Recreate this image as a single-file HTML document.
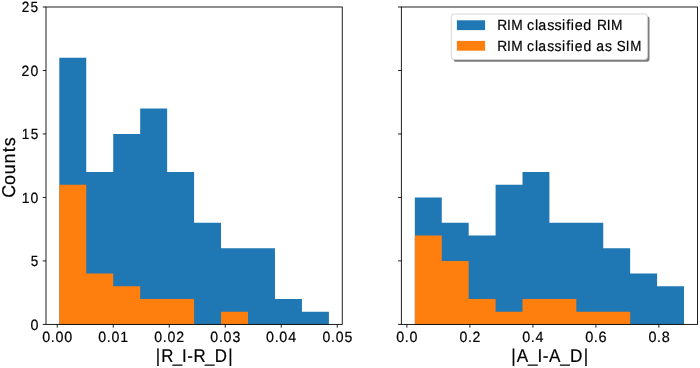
<!DOCTYPE html>
<html><head><meta charset="utf-8"><title>Histogram</title>
<style>
html,body{margin:0;padding:0;background:#fff;}
body{width:700px;height:368px;overflow:hidden;}
svg{display:block;font-family:"Liberation Sans",sans-serif;will-change:transform;text-rendering:geometricPrecision;}
svg text{fill:#000;stroke:#000;stroke-width:0.2px;white-space:pre;}
</style></head><body>
<svg width="700" height="368" viewBox="0 0 700 368">
<rect x="0" y="0" width="700" height="368" fill="#fff"/>
<path d="M59.30,324.4 L59.30,57.78 L86.26,57.78 L86.26,172.05 L113.22,172.05 L113.22,133.96 L140.18,133.96 L140.18,108.57 L167.14,108.57 L167.14,172.05 L194.10,172.05 L194.10,222.83 L221.06,222.83 L221.06,248.22 L248.02,248.22 L248.02,248.22 L274.98,248.22 L274.98,299.01 L301.94,299.01 L301.94,311.70 L328.90,311.70 L328.90,324.4 Z" fill="#1f77b4"/>
<path d="M59.30,324.4 L59.30,184.74 L86.26,184.74 L86.26,273.62 L113.22,273.62 L113.22,286.31 L140.18,286.31 L140.18,299.01 L167.14,299.01 L167.14,299.01 L194.10,299.01 L194.10,324.40 L221.06,324.40 L221.06,311.70 L248.02,311.70 L248.02,324.40 L274.98,324.40 L274.98,324.40 L301.94,324.40 L301.94,324.40 L328.90,324.40 L328.90,324.4 Z" fill="#ff7f0e"/>
<path d="M414.85,324.4 L414.85,197.44 L441.77,197.44 L441.77,222.83 L468.68,222.83 L468.68,235.53 L495.60,235.53 L495.60,184.74 L522.51,184.74 L522.51,172.05 L549.42,172.05 L549.42,222.83 L576.34,222.83 L576.34,222.83 L603.25,222.83 L603.25,248.22 L630.17,248.22 L630.17,273.62 L657.09,273.62 L657.09,286.31 L684.00,286.31 L684.00,324.4 Z" fill="#1f77b4"/>
<path d="M414.85,324.4 L414.85,235.53 L441.77,235.53 L441.77,260.92 L468.68,260.92 L468.68,299.01 L495.60,299.01 L495.60,311.70 L522.51,311.70 L522.51,299.01 L549.42,299.01 L549.42,299.01 L576.34,299.01 L576.34,311.70 L603.25,311.70 L603.25,311.70 L630.17,311.70 L630.17,324.40 L657.09,324.40 L657.09,324.40 L684.00,324.40 L684.00,324.4 Z" fill="#ff7f0e"/>
<g stroke="#000" stroke-width="0.88" fill="none">
<rect x="46.0" y="7.0" width="296.25" height="317.40"/>
<rect x="401.35" y="7.0" width="296.15" height="317.40"/>
<path d="M42.75,324.40H46.0 M398.10,324.40H401.35"/>
<path d="M42.75,260.92H46.0 M398.10,260.92H401.35"/>
<path d="M42.75,197.44H46.0 M398.10,197.44H401.35"/>
<path d="M42.75,133.96H46.0 M398.10,133.96H401.35"/>
<path d="M42.75,70.48H46.0 M398.10,70.48H401.35"/>
<path d="M42.75,7.00H46.0 M398.10,7.00H401.35"/>
<path d="M57.25,324.4v3.25"/>
<path d="M113.25,324.4v3.25"/>
<path d="M169.25,324.4v3.25"/>
<path d="M225.25,324.4v3.25"/>
<path d="M281.25,324.4v3.25"/>
<path d="M337.25,324.4v3.25"/>
<path d="M406.90,324.4v3.25"/>
<path d="M469.90,324.4v3.25"/>
<path d="M532.90,324.4v3.25"/>
<path d="M595.90,324.4v3.25"/>
<path d="M658.90,324.4v3.25"/>
</g>
<text x="31.81" y="329.75" font-size="14.90" transform="scale(0.959,1)">0</text>
<text x="33.89" y="266.27" font-size="14.90" transform="scale(0.905,1)">5</text>
<text x="23.10 32.60" y="202.79" font-size="14.90" transform="scale(0.938,1)">10</text>
<text x="23.96 33.68" y="139.31" font-size="14.90" transform="scale(0.910,1)">15</text>
<text x="22.87 32.46" y="75.83" font-size="14.90" transform="scale(0.942,1)">20</text>
<text x="23.69 33.50" y="12.35" font-size="14.90" transform="scale(0.914,1)">25</text>
<text x="43.96 52.93 57.76 66.97" y="341.85" font-size="14.90" transform="scale(0.960,1)">0.00</text>
<text x="103.67 112.73 117.66 126.92" y="341.85" font-size="14.90" transform="scale(0.948,1)">0.01</text>
<text x="162.39 171.44 176.35 185.46" y="341.85" font-size="14.90" transform="scale(0.950,1)">0.02</text>
<text x="221.66 230.72 235.64 244.98" y="341.85" font-size="14.90" transform="scale(0.949,1)">0.03</text>
<text x="277.19 286.17 291.00 300.21" y="341.85" font-size="14.90" transform="scale(0.960,1)">0.04</text>
<text x="341.54 350.63 355.59 364.91" y="341.85" font-size="14.90" transform="scale(0.944,1)">0.05</text>
<text x="412.32 421.29 426.12" y="341.85" font-size="14.90" transform="scale(0.961,1)">0.0</text>
<text x="485.66 494.74 499.48" y="341.85" font-size="14.90" transform="scale(0.946,1)">0.2</text>
<text x="543.42 552.39 557.22" y="341.85" font-size="14.90" transform="scale(0.961,1)">0.4</text>
<text x="599.55 608.42 613.14" y="341.85" font-size="14.90" transform="scale(0.976,1)">0.6</text>
<text x="671.22 680.16 684.95" y="341.85" font-size="14.90" transform="scale(0.966,1)">0.8</text>
<text x="171.49 177.48 190.23 200.44 206.24 213.14 225.90 236.62 251.51" y="362.00" font-size="18.55" transform="scale(0.908,1)">|R_I-R_D|</text>
<text x="552.18 558.05 570.31 580.37 586.05 592.83 605.09 615.57 630.27" y="362.00" font-size="18.55" transform="scale(0.926,1)">|A_I-A_D|</text>
<text x="-31.59 -18.31 -7.30 4.03 15.63 21.85" y="0.00" font-size="18.55" transform="translate(14.8,167.3) rotate(-90) scale(0.964,1)">Counts</text>
<rect x="453.5" y="16.2" width="196.0" height="45.5" rx="2.8" fill="#7c7c7c"/>
<rect x="451.3" y="14.0" width="196.1" height="45.5" rx="2.8" fill="#fff" stroke="#d6d6d6" stroke-width="1"/>
<rect x="456.9" y="20.3" width="28.2" height="9.8" fill="#1f77b4"/>
<rect x="456.9" y="40.9" width="28.2" height="9.8" fill="#ff7f0e"/>
<text x="530.57 540.97 545.55 558.12" y="30.20" font-size="14.70" transform="scale(0.937,1)">RIM </text>
<text x="540.55 548.70 552.11 561.29 568.76 576.45 580.74 585.49 589.46 598.31 607.05" y="30.20" font-size="14.70" transform="scale(0.975,1)">classified </text>
<text x="637.12 647.53 652.10" y="30.20" font-size="14.70" transform="scale(0.937,1)">RIM</text>
<text x="530.57 540.97 545.55 558.12" y="50.90" font-size="14.70" transform="scale(0.937,1)">RIM </text>
<text x="552.52 560.80 564.34 573.70 581.35 589.15 593.55 598.39 602.51 611.55 620.39 624.92 634.29 641.68" y="50.90" font-size="14.70" transform="scale(0.954,1)">classified as </text>
<text x="677.76 687.68 692.51" y="50.90" font-size="14.70" transform="scale(0.910,1)">SIM</text>
</svg>
</body></html>
